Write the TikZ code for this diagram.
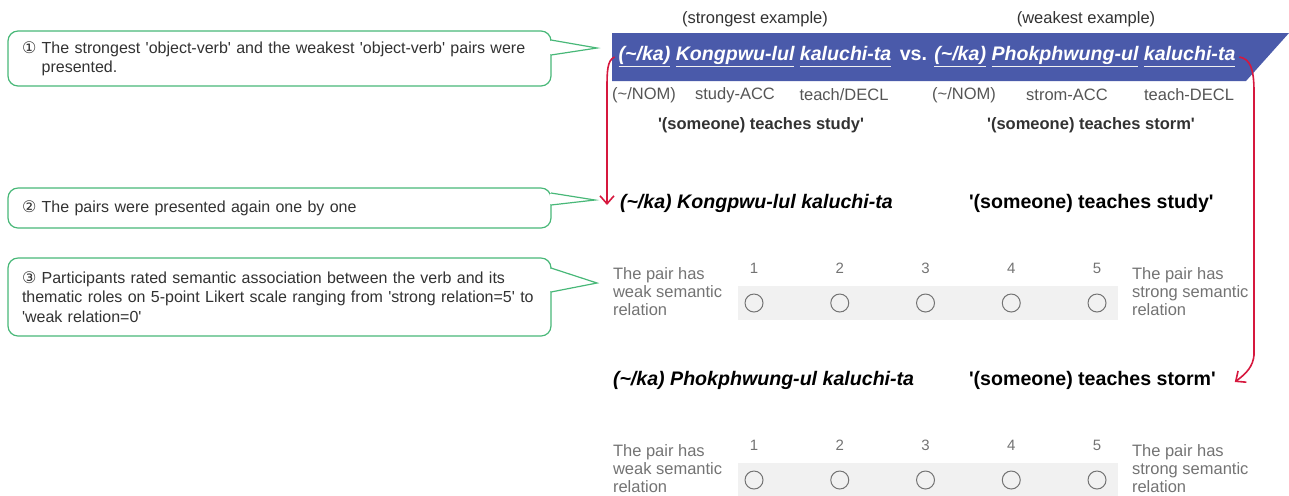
\documentclass[tikz,border=0pt]{standalone}
\usepackage{fontspec}
\setmainfont{Liberation Sans}[Ligatures=TeXOff]
\newfontfamily\circfont{DejaVu Sans}
\usetikzlibrary{arrows.meta,positioning}
\definecolor{notegreen}{RGB}{72,184,120}
\definecolor{bannerblue}{RGB}{74,90,170}
\definecolor{markred}{RGB}{214,24,62}
\definecolor{inkgray}{RGB}{50,50,50}
\definecolor{glossgray}{RGB}{85,85,85}
\definecolor{scalegray}{RGB}{115,115,115}
\definecolor{bandgray}{RGB}{241,241,241}
\newcommand{\cnum}[1]{{\circfont #1}}
\newsavebox{\wordbox}
\newcommand{\uword}[1]{\sbox{\wordbox}{#1}\rlap{\color{white!88!gray}\rule[-3.2pt]{\wd\wordbox}{0.8pt}}\usebox{\wordbox}}

\begin{document}
\begin{tikzpicture}[
    x=0.5pt, y=-0.5pt,
    every node/.style={inner sep=0pt, outer sep=0pt},
    notebox/.style={draw=notegreen, line width=0.6pt, rounded corners=5pt, fill=white, anchor=north west, text width=257.5pt, inner xsep=7pt, align=left, text=inkgray, font=\fontsize{8}{9.6}\selectfont},
    notetip/.style={draw=notegreen, line width=0.6pt, fill=white},
    headtext/.style={text=inkgray, font=\fontsize{8.25}{10}\selectfont},
    bannertext/.style={text=white, font=\bfseries\itshape\fontsize{9.8}{12}\selectfont},
    gloss/.style={text=glossgray, font=\fontsize{8.25}{10}\selectfont},
    meaning/.style={text=inkgray, font=\bfseries\fontsize{8.25}{10}\selectfont},
    pairtext/.style={anchor=west, text=black, font=\bfseries\fontsize{9.8}{12}\selectfont},
    pole/.style={anchor=west, align=left, text=scalegray, font=\fontsize{8.25}{9}\selectfont},
    scalenum/.style={text=scalegray, font=\fontsize{7.5}{9}\selectfont},
    option/.style={circle, draw=scalegray, line width=0.5pt, minimum size=9pt},
    redarrow/.style={-{Straight Barb[length=4pt,width=7pt]}, line width=0.8pt, color=markred}
]
    \useasboundingbox (0,0) rectangle (1289,495);

    % Example pair banner
    \fill[bannerblue] (612,33) -- (1289,33) -- (1246,81) -- (612,81) -- cycle;
    \node[headtext] (strongest) at (755,19) {(strongest example)};
    \node[headtext] (weakest) at (1086,19) {(weakest example)};
    \node[bannertext] (pairs) at (927,57) {\uword{(\textasciitilde/ka)} \uword{Kongpwu-lul} \uword{kaluchi-ta}\hspace{1.5pt} \upshape vs. \itshape\uword{(\textasciitilde/ka)} \uword{Phokphwung-ul} \uword{kaluchi-ta}};
    \node[gloss] (nomA) at (644,95) {(\textasciitilde/NOM)};
    \node[gloss] (accA) at (735,95) {study-ACC};
    \node[gloss] (declA) at (844,95) {teach/DECL};
    \node[gloss] (nomB) at (964,95) {(\textasciitilde/NOM)};
    \node[gloss] (accB) at (1067,95) {strom-ACC};
    \node[gloss] (declB) at (1189,95) {teach-DECL};
    \node[meaning] (meanA) at (761,125) {'(someone) teaches study'};
    \node[meaning] (meanB) at (1091,125) {'(someone) teaches storm'};

    % Single items
    \node[pairtext, font=\bfseries\itshape\fontsize{9.8}{12}\selectfont] (itemA) at (620,203) {(\textasciitilde/ka) Kongpwu-lul kaluchi-ta};
    \node[pairtext] (senseA) at (969,203) {'(someone) teaches study'};
    \node[pairtext, font=\bfseries\itshape\fontsize{9.8}{12}\selectfont] (itemB) at (613,380) {(\textasciitilde/ka) Phokphwung-ul kaluchi-ta};
    \node[pairtext] (senseB) at (969,380) {'(someone) teaches storm'};

    % Rating scales
    \foreach \r/\dy in {1/0, 2/177} {
        \fill[bandgray] (738,286+\dy) rectangle (1118,320+\dy);
        \node[pole] (weak\r) at (613,292+\dy) {The pair has\\weak semantic\\relation};
        \node[pole] (strong\r) at (1132,292+\dy) {The pair has\\strong semantic\\relation};
        \foreach \i in {1,...,5} {
            \node[scalenum] (num\r-\i) at (668.25+85.75*\i,268+\dy) {\i};
            \node[option] (opt\r-\i) at (668.25+85.75*\i,303+\dy) {};
        }
    }

    % Steps
    \node[notebox, minimum height=27.5pt] (note1) at (8,31) {\mbox{\cnum{①} The strongest 'object-verb' and the weakest 'object-verb' pairs were}\\\hphantom{\cnum{①} }presented.};
    \node[notebox, minimum height=20pt] (note2) at (8,188) {\cnum{②} The pairs were presented again one by one};
    \node[notebox, minimum height=39pt] (note3) at (8,258) {\mbox{\cnum{③} Participants rated semantic association between the verb and its}\\\mbox{thematic roles on 5-point Likert scale ranging from 'strong relation=5' to}\\'weak relation=0'};
    \coordinate (tip1) at (597,48);
    \coordinate (tip2) at (595,200);
    \coordinate (tip3) at (597,283);

    % Pointers
    \filldraw[notetip] ([yshift=-4.5pt]note1.north east) -- (tip1) -- ([yshift=-12pt]note1.north east);
    \draw[white, line width=1pt] ([yshift=-5pt]note1.north east) -- ([yshift=-11.5pt]note1.north east);
    \filldraw[notetip] ([yshift=-2.5pt]note2.north east) -- (tip2) -- ([yshift=-8.5pt]note2.north east);
    \draw[white, line width=1pt] ([yshift=-3pt]note2.north east) -- ([yshift=-8pt]note2.north east);
    \filldraw[notetip] ([yshift=-5pt]note3.north east) -- (tip3) -- ([yshift=-17pt]note3.north east);
    \draw[white, line width=1pt] ([yshift=-5.5pt]note3.north east) -- ([yshift=-16.5pt]note3.north east);

    % Red arrows
    \draw[redarrow] ([xshift=-2pt]pairs.west) .. controls (607,60) and (607,72) .. (607,90) -- ([xshift=-6.5pt,yshift=-1pt]itemA.west);
    \draw[redarrow] ([xshift=2pt]pairs.east) .. controls (1250,59) and (1254,68) .. (1254,92) -- (1254,355) .. controls (1253,366) and (1247,373) .. ([xshift=9.5pt,yshift=-1pt]senseB.east);
\end{tikzpicture}
\end{document}
